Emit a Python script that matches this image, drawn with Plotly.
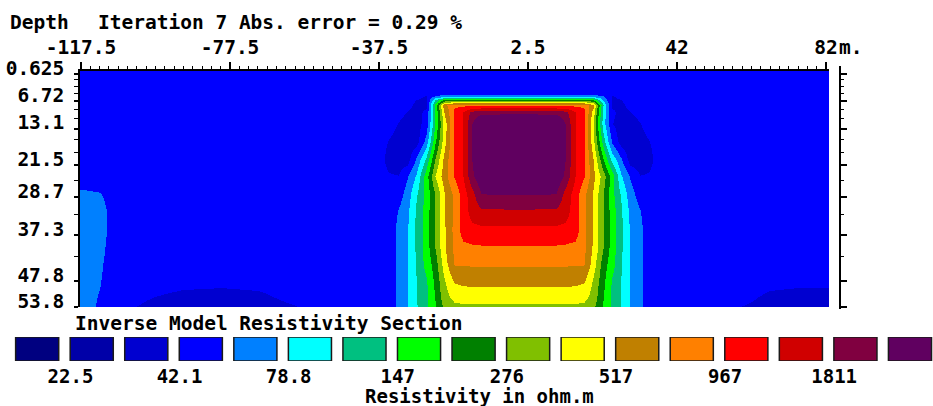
import numpy as np
import plotly.graph_objects as go

# ---------------- data ----------------
title_left = "Depth"
title_main = "Iteration 7 Abs. error = 0.29 %"
section_title = "Inverse Model Resistivity Section"
unit_title = "Resistivity in ohm.m"

# model grid: horizontal positions (m) and depths (m)
x_pos = [-117.5, -112.5, -107.5, -100, -90, -80, -70, -60, -50, -42.5,
         -37.5, -35, -32.5, -30, -27.5, -25, -22.5, -20, -17.5, -15, -12.5, -10,
         0,
         10, 12.5, 15, 17.5, 20, 22.5, 25, 27.5, 30, 32.5, 35, 37.5,
         42.5, 50, 60, 67.5, 75, 82.5]
depth = [0.625, 4.6, 5.6, 6.6, 7.6, 9.2, 12, 16, 20, 24, 28, 32, 36, 40, 44, 48, 51.5, 53.8]

# resistivity (ohm.m) read from the section, one row per depth
rho = [
    [49, 49, 49, 49, 49, 49, 49, 49, 49, 49,
     49, 49, 49, 49, 49, 49, 49, 49, 49, 49, 49, 49,
     49,
     49, 49, 49, 49, 49, 49, 49, 49, 49, 49, 49, 49,
     49, 49, 49, 49, 49, 49],
    [49, 49, 49, 49, 49, 49, 49, 49, 49, 49,
     49, 49, 49, 49, 47.7, 46.3, 47.7, 47.7, 47.7, 47.7, 47.7, 47.7,
     46.3,
     47.7, 47.7, 47.7, 47.7, 47.7, 47.7, 46.3, 47.7, 49, 49, 49, 49,
     49, 49, 49, 49, 49, 49],
    [49, 49, 49, 49, 49, 49, 49, 49, 49, 49,
     49, 49, 49, 47.7, 44.8, 41.5, 59.4, 61.3, 61.3, 61.3, 61.3, 61.3,
     61.3,
     61.3, 61.3, 61.3, 61.3, 61.3, 59.4, 41.5, 44.8, 47.7, 49, 49, 49,
     49, 49, 49, 49, 49, 49],
    [49, 49, 49, 49, 49, 49, 49, 49, 49, 49,
     49, 49, 49, 47.7, 41.8, 40.2, 108, 222, 236, 236, 236, 236,
     236,
     236, 236, 236, 236, 215, 76, 40.2, 41.8, 47.7, 49, 49, 49,
     49, 49, 49, 49, 49, 49],
    [49, 49, 49, 49, 49, 49, 49, 49, 49, 49,
     49, 49, 47.7, 46.3, 39.6, 39.6, 167, 644, 909, 909, 909, 909,
     909,
     909, 909, 909, 909, 568, 108, 39.6, 39.6, 46.3, 47.7, 49, 49,
     49, 49, 49, 49, 49, 49],
    [49, 49, 49, 49, 49, 49, 49, 49, 49, 49,
     49, 49, 46.3, 41.8, 38.3, 44.8, 150, 520, 1031, 1346, 1991, 2187,
     2187,
     2187, 1991, 1346, 1031, 456, 95.1, 44.8, 38.3, 41.8, 46.3, 49, 49,
     49, 49, 49, 49, 49, 49],
    [49, 49, 49, 49, 49, 49, 49, 49, 49, 49,
     49, 49, 41.5, 37.2, 37.2, 47.7, 150, 428, 999, 1330, 2500, 3969,
     5431,
     3969, 2500, 1330, 999, 380, 92.2, 42.5, 37.2, 37.2, 41.5, 49, 49,
     49, 49, 49, 49, 49, 49],
    [49, 49, 49, 49, 49, 49, 49, 49, 49, 49,
     49, 41.8, 37.2, 36.0, 36.0, 64.3, 189.5, 456, 983, 1346, 2500, 3969,
     5431,
     3969, 2500, 1346, 983, 415, 126, 54.1, 36.0, 36.0, 37.2, 41.8, 49,
     49, 49, 49, 49, 49, 49],
    [49, 49, 49, 49, 49, 49, 49, 49, 49, 49,
     47.7, 38.3, 34.9, 36.0, 59.4, 114.8, 280, 559, 1015, 1367, 2500, 3727,
     5101,
     3727, 2500, 1367, 1015, 520, 205, 95.1, 59.4, 36.0, 34.9, 38.3, 47.7,
     49, 49, 49, 49, 49, 49],
    [50.8, 50.0, 49, 49, 49, 49, 49, 49, 49, 49,
     49, 43.4, 42.5, 55.8, 81.3, 172.6, 380, 605, 983, 1330, 2328, 3187,
     4095,
     3187, 2328, 1330, 983, 568, 323, 172.6, 81.3, 55.8, 42.5, 43.4, 49,
     49, 49, 49, 49, 49, 49],
    [60.4, 58.5, 49, 49, 49, 49, 49, 49, 49, 49,
     49, 49, 49, 66.3, 102.9, 162, 278, 501, 765, 1133, 1624, 2470,
     2519,
     2470, 1624, 1133, 765, 501, 278, 162, 102.9, 66.3, 49, 49, 49,
     49, 49, 49, 49, 49, 49],
    [67.4, 63.3, 49, 49, 49, 49, 49, 49, 49, 49,
     47.7, 46.3, 58.5, 72.9, 113, 172.6, 280, 501, 753, 1133, 1502, 1703,
     1757,
     1703, 1502, 1133, 753, 501, 280, 172.6, 113, 72.9, 58.5, 46.3, 47.7,
     49, 49, 49, 49, 49, 49],
    [67.4, 63.3, 49, 49, 49, 49, 49, 49, 49, 49,
     48.5, 49, 61.3, 76.4, 113, 172.6, 280.6, 493, 777, 1133, 1225, 1244,
     1244,
     1244, 1225, 1133, 777, 493, 280.6, 172.6, 113, 76.4, 61.3, 49, 48.5,
     49, 49, 49, 49, 49, 49],
    [66.3, 61.3, 49, 49, 49, 49, 49, 49, 49, 49,
     48.5, 49, 61.3, 76.4, 113, 172.6, 280, 493, 753, 895, 924, 938,
     938,
     938, 924, 895, 753, 493, 280, 172.6, 113, 76.4, 61.3, 49, 48.5,
     49, 49, 49, 49, 49, 49],
    [65.3, 59.4, 49, 49, 49, 49, 49, 49, 49, 49,
     48.5, 49, 61.3, 77.6, 111.2, 164.6, 236, 442, 719, 725, 730, 730,
     730,
     730, 730, 725, 719, 442, 236, 164.6, 111.2, 77.6, 61.3, 49, 48.5,
     49, 49, 49, 49, 49, 49],
    [64.3, 58.0, 49, 47.0, 44.8, 44.1, 44.8, 47.0, 49, 49,
     48.5, 49, 61.3, 77.6, 106.1, 140.7, 218.4, 360.6, 525, 550.5, 559, 559,
     559,
     559, 559, 550.5, 525, 360.6, 218.4, 140.7, 106.1, 77.6, 61.3, 49, 48.5,
     49, 49, 47.0, 44.8, 44.1, 44.1],
    [63.3, 56.7, 47.0, 42.8, 39.6, 39.0, 40.2, 44.8, 48.5, 49,
     48.5, 49, 61.3, 77.6, 106.1, 140.7, 205, 333, 415, 428, 428, 428,
     428,
     428, 428, 428, 415, 333, 205, 140.7, 106.1, 77.6, 61.3, 49, 48.5,
     49, 48.5, 44.8, 40.2, 39.0, 39.0],
    [63.3, 55.8, 44.1, 40.8, 37.2, 36.6, 38.3, 41.5, 47.7, 49,
     48.5, 49, 60.4, 77.6, 104.5, 138.5, 195.6, 294, 344, 355, 355, 355,
     355,
     355, 355, 355, 344, 294, 195.6, 138.5, 104.5, 77.6, 60.4, 49, 48.5,
     49, 47.7, 41.8, 39.0, 37.2, 37.2],
]

# axis ticks
x_tick_vals = [-117.5, -77.5, -37.5, 2.5, 42.5, 82.5]
x_tick_text = ["-117.5", "-77.5", "-37.5", "2.5", "42", "82"]
electrode_spacing = 2.5
layer_depths = [0.625, 1.94, 3.39, 4.98, 6.72, 8.64, 10.8, 13.1, 15.6, 18.5,
                21.5, 24.9, 28.7, 32.8, 37.3, 42.3, 47.8, 53.8]
depth_label_vals = [0.625, 6.72, 13.1, 21.5, 28.7, 37.3, 47.8, 53.8]
depth_label_text = ["0.625", "6.72", "13.1", "21.5", "28.7", "37.3", "47.8", "53.8"]

# colour legend
legend_values = [22.5, 42.1, 78.8, 147, 276, 517, 967, 1811]
legend_text = ["22.5", "42.1", "78.8", "147", "276", "517", "967", "1811"]
band_colors = ["#000080", "#0000A8", "#0000D0", "#0000FF", "#0080FF", "#00FFFF",
               "#00C080", "#00FF00", "#008000", "#80C000", "#FFFF00", "#C08000",
               "#FF8000", "#FF0000", "#D00000", "#800040", "#600060"]

# ---------------- build ----------------
for r in rho:
    assert len(r) == len(x_pos), len(r)
assert len(rho) == len(depth)

W, H = 933, 406
nb = len(band_colors)
lv = np.log10(legend_values)
step = (lv[-1] - lv[0]) / (2 * (len(legend_values) - 1))
zmin = lv[0] - step
zmax = zmin + nb * step

cs = []
for k, c in enumerate(band_colors):
    cs.append([k / nb, c])
    cs.append([(k + 1) / nb, c])

FONT = dict(family="DejaVu Sans Mono", size=19.5, color="black", weight="bold")
FONT_S = dict(family="DejaVu Sans Mono", size=19, color="black", weight="bold")

# pixel geometry of the section
px_left, px_right = 80, 829
py_top, py_bot = 71, 307
x_per_px = 1 / 3.725
d_per_px = 1 / 4.382
x_range = [x_tick_vals[0] - (81 - px_left) * x_per_px,
           x_tick_vals[0] + (px_right - 81) * x_per_px]
y_range = [depth[-1], depth[0] - (74 - py_top) * d_per_px]

fig = go.Figure()
fig.add_trace(go.Heatmap(
    x=x_pos, y=depth, z=np.log10(np.array(rho, dtype=float)),
    zsmooth="best", colorscale=cs, zmin=zmin, zmax=zmax,
    showscale=False, hoverinfo="skip"))

# dummy trace so the right-hand depth axis is drawn
fig.add_trace(go.Scatter(x=[None], y=[None], xaxis="x", yaxis="y2",
                         mode="markers", showlegend=False, hoverinfo="skip"))

band_index = list(range(1, nb + 1))
fig.add_trace(go.Bar(
    x=band_index, y=[1] * nb, xaxis="x3", yaxis="y3",
    marker=dict(color=band_colors, line=dict(color="#1a1a1a", width=1.5)),
    width=0.79, showlegend=False, hoverinfo="skip"))

minor_depths = [d for d in layer_depths if d not in depth_label_vals]

fig.update_layout(
    template="none",
    width=W, height=H,
    margin=dict(l=0, r=0, t=0, b=0, pad=0, autoexpand=False),
    paper_bgcolor="white", plot_bgcolor="rgba(0,0,0,0)",
    showlegend=False,
    xaxis=dict(
        domain=[px_left / W, px_right / W], range=x_range, automargin=False,
        side="top", anchor="y", showline=True, linecolor="black", linewidth=1.5,
        ticks="outside", ticklen=7, tickwidth=1.5, tickcolor="black",
        tickmode="array", tickvals=x_tick_vals, ticktext=x_tick_text,
        minor=dict(tickmode="linear", tick0=x_tick_vals[0], dtick=electrode_spacing,
                   ticks="outside", ticklen=3.5, tickwidth=1, tickcolor="black"),
        showgrid=False, zeroline=False, tickfont=FONT, ticklabelstandoff=0,
        fixedrange=True),
    yaxis=dict(
        domain=[1 - py_bot / H, 1 - py_top / H], range=y_range, automargin=False,
        anchor="x", showline=True, linecolor="black", linewidth=1.5,
        ticks="outside", ticklen=4, tickwidth=1.5, tickcolor="black",
        tickmode="array", tickvals=depth_label_vals, ticktext=depth_label_text,
        minor=dict(tickmode="array", tickvals=minor_depths, ticks="outside",
                   ticklen=4, tickwidth=1, tickcolor="black"),
        ticklabelshift=6, ticklabelstandoff=6,
        showgrid=False, zeroline=False, tickfont=FONT, fixedrange=True),
    yaxis2=dict(
        domain=[1 - 309 / H, 1 - 66 / H], automargin=False,
        range=[depth[0] + (309 - 74) * d_per_px, depth[0] + (66 - 74) * d_per_px],
        anchor="free", position=840 / W, side="right",
        showline=True, linecolor="black", linewidth=1.5,
        ticks="outside", ticklen=6, tickwidth=1.5, tickcolor="black",
        tickmode="array", tickvals=depth_label_vals, showticklabels=False,
        minor=dict(tickmode="array", tickvals=minor_depths, ticks="outside",
                   ticklen=3, tickwidth=1, tickcolor="black"),
        showgrid=False, zeroline=False, fixedrange=True),
    xaxis3=dict(
        domain=[9.9 / W, 1.0], range=[0.5, 0.5 + (W - 9.9) / 54.55], automargin=False,
        anchor="y3", showline=False, ticks="", showgrid=False, zeroline=False,
        tickmode="array", tickvals=[i + 1.5 for i in range(0, 2 * len(legend_text), 2)],
        ticktext=legend_text, tickfont=FONT_S, ticklabelshift=6, ticklabelstandoff=2,
        fixedrange=True),
    yaxis3=dict(domain=[1 - 361 / H, 1 - 337 / H], range=[0, 1], anchor="x3",
                visible=False, fixedrange=True, automargin=False),
)

def ann(text, xpx, ypx, xanchor="left", font=FONT):
    fig.add_annotation(text=text, x=xpx / W, y=1 - ypx / H, xref="paper", yref="paper",
                       xanchor=xanchor, yanchor="middle", showarrow=False, font=font)

ann(title_left, 8, 23)
ann(title_main, 96, 23)
ann("m.", 837, 48)
ann(section_title, 73, 323)
ann(unit_title, 479.5, 396, "center", FONT_S)

fig.write_html("out.html", config={"displayModeBar": False})
